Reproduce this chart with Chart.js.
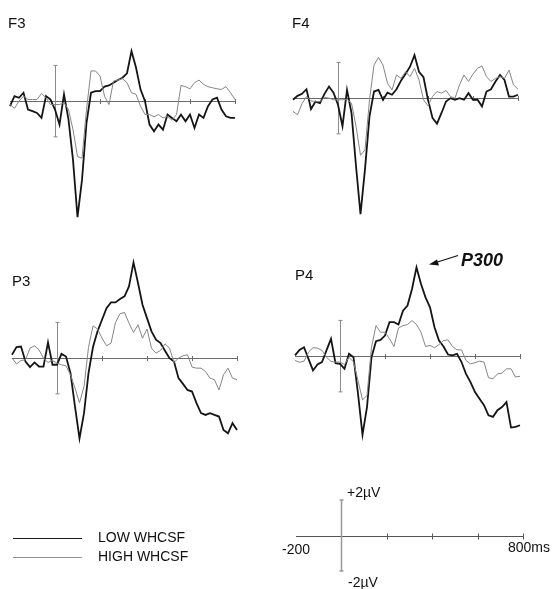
<!DOCTYPE html>
<html><head><meta charset="utf-8">
<script src="https://cdn.jsdelivr.net/npm/chart.js@4"></script>
<style>
body{margin:0;background:#fff;}
#wrap{position:relative;width:558px;height:589px;overflow:hidden;background:#fff;font-family:"Liberation Sans",Arial,Helvetica,sans-serif;color:#111;}
.lbl{position:absolute;font-size:14px;line-height:14px;white-space:nowrap;}
.pl{position:absolute;font-size:15px;line-height:15px;white-space:nowrap;}
canvas{position:absolute;}
.sw{position:absolute;height:0;}
</style></head><body>
<div id="wrap">
<canvas id="cF3" width="237" height="262" style="left:4px;top:-11.6px"></canvas>
<canvas id="cF4" width="237" height="262" style="left:287.3px;top:-14.8px"></canvas>
<canvas id="cP3" width="237" height="262" style="left:5.7px;top:245.2px"></canvas>
<canvas id="cP4" width="237" height="262" style="left:289px;top:242.6px"></canvas>
<canvas id="cScale" width="239" height="83" style="left:290px;top:494px"></canvas>
<div class="pl" style="left:8px;top:14.5px">F3</div>
<div class="pl" style="left:292px;top:14.5px">F4</div>
<div class="pl" style="left:12px;top:273px">P3</div>
<div class="pl" style="left:295px;top:267px">P4</div>
<div style="position:absolute;left:461px;top:251px;font-size:18px;line-height:18px;font-weight:bold;font-style:italic;">P300</div>
<svg style="position:absolute;left:0;top:0" width="558" height="589">
<line x1="458" y1="255.5" x2="436" y2="262.5" stroke="#111" stroke-width="1.2"/>
<polygon points="429,264.5 437,259.5 439,265.5" fill="#111"/>
</svg>
<div class="sw" style="left:13px;top:537.5px;width:69px;border-top:1.6px solid #1a1a1a"></div>
<div class="sw" style="left:13px;top:557px;width:69px;border-top:1px solid #909090"></div>
<div class="lbl" style="left:98px;top:530.3px">LOW WHCSF</div>
<div class="lbl" style="left:98px;top:549px">HIGH WHCSF</div>
<div class="lbl" style="left:347px;top:485px">+2µV</div>
<div class="lbl" style="left:348px;top:575px">-2µV</div>
<div class="lbl" style="left:282px;top:541.5px">-200</div>
<div class="lbl" style="left:508px;top:540px">800ms</div>
</div>
<script>
const times=[-200,-180,-160,-140,-120,-100,-80,-60,-40,-20,0,20,40,60,80,100,120,140,160,180,200,220,240,260,280,300,320,340,360,380,400,420,440,460,480,500,520,540,560,580,600,620,640,660,680,700,720,740,760,780,800];
const tickTimes=[200,400,600,800];
const barRange=[-2,2];

const f3Low=[-0.28,0.28,0.19,0.47,-0.47,-0.56,-0.66,-0.94,0.28,0.09,-0.47,-1.31,0.38,-1.03,-3.29,-6.5,-4.41,-1.22,0.47,0.56,0.56,0.81,0.88,1.03,1.18,1.31,1.56,2.8,1.88,0.66,0,-1.31,-1.69,-1.31,-1.6,-0.75,-0.94,-1.13,-0.75,-1.13,-0.75,-1.5,-0.75,-0.94,-0.28,0.09,0.19,-0.47,-0.85,-0.94,-0.94];
const f3High=[-0.19,-0.4,0,0.28,0.09,0.09,0.09,0.43,0.19,-0.19,-0.19,-0.19,-0.09,-0.47,-1.6,-3.1,-3.2,-0.47,1.69,1.69,1.41,0.28,-0.19,1.13,1.18,1.26,1.03,0.47,0.38,-0.28,-0.75,-0.75,-0.88,-0.75,-0.94,-0.85,-1.07,-0.75,0.88,0.81,0.69,1.03,1.18,0.94,0.81,0.75,0.69,0.66,0.81,0.47,0.09];
const f4Low=[-0.09,0.13,0.24,0.5,-0.61,-0.19,-0.28,0.24,0.65,0.31,-0.37,-1.57,0.46,-0.83,-3.8,-6.5,-3.98,-1.02,0.37,0.46,-0.09,0.31,0.19,0.5,0.98,1.35,1.76,2.41,1.48,1.17,-0.09,-1.11,-1.43,-0.83,-0.19,0,-0.09,0,-0.09,0.28,-0.09,-0.09,-0.46,0.37,0.5,0.93,1.3,1.02,0.09,0.09,0.19];
const f4High=[-0.74,-0.93,-0.31,0.09,-0.15,-0.19,-0.19,0.04,0,-0.09,-0.09,-0.09,-0.06,-0.28,-1.57,-3.2,-2.9,-0.09,1.85,2.28,1.85,0.83,0.46,1.3,1.11,1.48,1.2,1.67,1.02,-0.09,-0.43,0.09,0.37,0.28,0.43,0.09,0,0.74,1.3,0.93,1.35,1.67,1.8,1.2,0.93,1.11,1.2,1.11,1.57,0.74,0.5];
const p3Low=[0.19,0.62,0.65,-0.19,-0.5,-0.24,-0.47,-0.47,0.88,-0.37,-0.37,0.24,0.09,-0.84,-2.71,-4.5,-3.08,-0.84,0.62,1.5,2.15,2.8,3.12,3.12,3.31,3.46,4.02,5.36,4.21,2.99,2.24,1.5,1.03,0.84,0.41,0,-0.19,-1.12,-1.44,-1.78,-1.87,-2.52,-3.08,-3.18,-3.08,-3.18,-3.27,-4.02,-4.21,-3.64,-4.02];
const p3High=[0,-0.32,-0.13,-0.09,0.56,0.69,0.47,0,-0.24,-0.13,-0.28,-0.37,-0.43,-0.93,-1.68,-2.5,-1.59,0.6,1.81,1.63,1.12,0.69,0.84,2,2.49,2.56,1.96,1.44,1.87,1.12,1.63,0.56,0.28,0.43,0.8,0.56,-0.24,0,0.13,0.19,-0.5,-0.56,-0.56,-0.75,-1.12,-1.21,-1.78,-0.93,-0.56,-1.12,-1.21];
const p4Low=[0.04,0.35,0.5,-0.15,-0.8,-0.47,-0.33,0.32,0.97,-0.39,-0.43,-0.71,0.13,-0.06,-2.1,-4.4,-2.85,-0.06,0.84,0.91,1.15,1.9,1.9,1.77,2.55,2.83,3.76,4.97,4.04,3.29,2.73,1.62,0.87,0.54,0.09,0.04,0.13,-0.33,-0.99,-1.45,-2.01,-2.38,-2.75,-3.31,-3.4,-3.03,-2.85,-2.57,-4,-3.96,-3.87];
const p4High=[-0.24,-0.35,-0.28,0.22,0.47,0.45,0.32,-0.06,-0.3,-0.33,-0.33,-0.47,-0.06,-0.33,-1.36,-2.45,-2.2,0.5,1.71,1.34,1.34,0.97,0.54,1.58,1.71,1.77,1.99,1.77,1.34,0.54,0.6,0.47,0.65,0.87,0.91,0.54,0.35,0.35,-0.24,-0.43,-0.37,-0.28,-0.33,-1.21,-1.27,-0.99,-0.95,-0.71,-0.71,-1.17,-1.13];

const erpAxes={
  id:'erpAxes',
  beforeDatasetsDraw(chart,args,o){
    const {ctx,scales:{x,y}}=chart;
    ctx.save();
    const y0=Math.round(y.getPixelForValue(0))+0.5;
    const xs=x.getPixelForValue(times[0]), xe=x.getPixelForValue(times[times.length-1]);
    ctx.strokeStyle=o.axisColor; ctx.lineWidth=1;
    ctx.beginPath(); ctx.moveTo(xs,y0); ctx.lineTo(xe,y0);
    for(const t of tickTimes){const px=Math.round(x.getPixelForValue(t))+0.5; ctx.moveTo(px,y0-o.tick); ctx.lineTo(px,y0+o.tick);}
    ctx.stroke();
    const bx=Math.round(x.getPixelForValue(0))+0.5;
    const yt=y.getPixelForValue(barRange[1]), yb=y.getPixelForValue(barRange[0]);
    ctx.strokeStyle=o.barColor; ctx.lineWidth=o.barWidth;
    ctx.beginPath(); ctx.moveTo(bx,yt); ctx.lineTo(bx,yb);
    ctx.moveTo(bx-2,yt); ctx.lineTo(bx+2,yt); ctx.moveTo(bx-2,yb); ctx.lineTo(bx+2,yb);
    ctx.stroke();
    ctx.restore();
  }
};

function pts(vals){return times.map((t,i)=>({x:t,y:vals[i]}));}

function erpChart(id,low,high,yMin,yMax,opts){
  return new Chart(document.getElementById(id),{
    type:'line',
    data:{datasets: low ? [
      {data:pts(high),borderColor:'#858585',borderWidth:1,pointRadius:0,tension:0,clip:false},
      {data:pts(low),borderColor:'#151515',borderWidth:1.8,pointRadius:0,tension:0,clip:false}
    ] : []},
    options:{
      responsive:false,animation:false,events:[],
      layout:{padding:6},
      plugins:{legend:{display:false},tooltip:{enabled:false},erpAxes:opts},
      scales:{
        x:{type:'linear',min:-200,max:800,display:false},
        y:{type:'linear',min:yMin,max:yMax,display:false}
      }
    },
    plugins:[erpAxes]
  });
}
const panelOpts={axisColor:'#6a6a6a',barColor:'#8a8a8a',barWidth:1,tick:2.5};
erpChart('cF3',f3Low,f3High,-8,6,panelOpts);
erpChart('cF4',f4Low,f4High,-8,6,panelOpts);
erpChart('cP3',p3Low,p3High,-8,6,panelOpts);
erpChart('cP4',p4Low,p4High,-8,6,panelOpts);
erpChart('cScale',null,null,-2,2,{axisColor:'#555',barColor:'#999',barWidth:1.5,tick:3});
</script>
</body></html>
